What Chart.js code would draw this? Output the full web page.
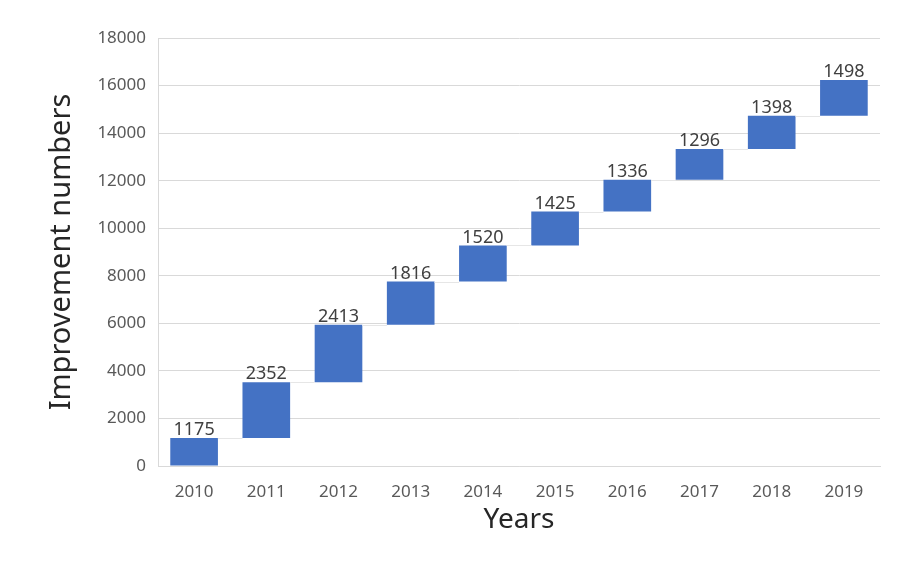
<!DOCTYPE html>
<html>
<head>
<meta charset="utf-8">
<script src="https://cdn.jsdelivr.net/npm/chart.js@4.4.1/dist/chart.umd.min.js"></script>
<style>
  html, body { margin: 0; padding: 0; background: #fff; }
  #wrap { width: 914px; height: 564px; position: relative; }
</style>
</head>
<body>
<div id="wrap"><canvas id="waterfall"></canvas></div>
<script>
// 年份与每年新增数量
const years = ['2010', '2011', '2012', '2013', '2014', '2015', '2016', '2017', '2018', '2019'];
const increments = [1175, 2352, 2413, 1816, 1520, 1425, 1336, 1296, 1398, 1498];
const yTicks = [0, 2000, 4000, 6000, 8000, 10000, 12000, 14000, 16000, 18000];

// 累加成浮动柱 [起点, 终点]
const ranges = [];
let running = 0;
for (let i = 0; i < increments.length; i++) {
    ranges.push([running, running + increments[i]]);
    running += increments[i];
}

const FONT = '"Noto Sans", "DejaVu Sans", sans-serif';

// 柱子之间的连接线 + 数值标签
const waterfallExtras = {
    id: 'waterfallExtras',
    afterDatasetsDraw(chart) {
        const ctx = chart.ctx;
        const meta = chart.getDatasetMeta(0);
        const y = chart.scales.y;
        ctx.save();
        // 连接线
        ctx.strokeStyle = '#e6e6e6';
        ctx.lineWidth = 1;
        for (let i = 0; i < meta.data.length - 1; i++) {
            const a = meta.data[i], b = meta.data[i + 1];
            const py = Math.round(y.getPixelForValue(ranges[i][1])) + 0.5;
            ctx.beginPath();
            ctx.moveTo(a.x + a.width / 2, py);
            ctx.lineTo(b.x - b.width / 2, py);
            ctx.stroke();
        }
        // 数值
        ctx.fillStyle = '#404040';
        ctx.font = '18px ' + FONT;
        ctx.textAlign = 'center';
        ctx.textBaseline = 'bottom';
        meta.data.forEach((bar, i) => {
            const top = y.getPixelForValue(ranges[i][1]);
            ctx.fillText(String(increments[i]), bar.x, top + 1);
        });
        ctx.restore();
    }
};

const ctx = document.getElementById('waterfall').getContext('2d');
new Chart(ctx, {
    type: 'bar',
    data: {
        labels: years,
        datasets: [{
            data: ranges,
            backgroundColor: '#4472c4',
            borderWidth: 0,
            barPercentage: 0.66,
            categoryPercentage: 1.0
        }]
    },
    options: {
        responsive: true,
        maintainAspectRatio: false,
        animation: false,
        layout: { padding: { left: 40, right: 34, top: 38, bottom: 27 } },
        plugins: {
            legend: { display: false },
            tooltip: { enabled: false }
        },
        scales: {
            x: {
                grid: { display: false, drawTicks: false },
                border: { display: true, color: '#d9d9d9' },
                ticks: { color: '#595959', font: { family: FONT, size: 17 }, padding: 16 },
                title: {
                    display: true, text: 'Years', color: '#262626',
                    font: { family: FONT, size: 28 }, padding: { top: -15, bottom: 0 }
                }
            },
            y: {
                min: 0, max: 18000,
                afterBuildTicks(scale) { scale.ticks = yTicks.map(v => ({ value: v })); },
                grid: { color: '#d9d9d9', drawTicks: false },
                border: { display: true, color: '#d9d9d9' },
                ticks: {
                    color: '#595959', font: { family: FONT, size: 17 }, padding: 12,
                    callback: v => String(v)
                },
                title: {
                    display: true, text: 'Improvement numbers', color: '#262626',
                    font: { family: FONT, size: 29 }, padding: { bottom: 2 }
                },
                afterFit(scale) { scale.width = 118; }
            }
        }
    },
    plugins: [waterfallExtras]
});
</script>
</body>
</html>
